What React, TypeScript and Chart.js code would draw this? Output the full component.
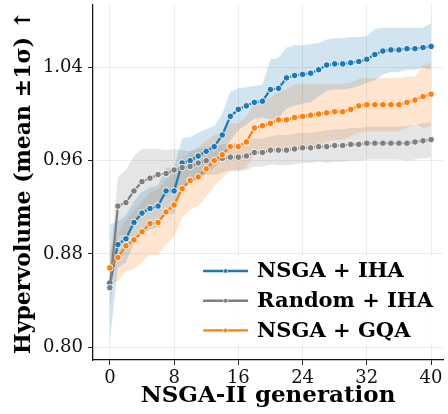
import React, { useEffect, useRef } from "react";
import { Chart, registerables } from "chart.js";

Chart.register(...registerables);

const generations = [
  0, 1, 2, 3, 4, 5, 6, 7, 8, 9, 10, 11, 12, 13, 14, 15, 16, 17, 18, 19, 20,
  21, 22, 23, 24, 25, 26, 27, 28, 29, 30, 31, 32, 33, 34, 35, 36, 37, 38, 39, 40,
];

const nsgaIhaMean = [
  0.855, 0.888, 0.893, 0.907, 0.915, 0.919, 0.921, 0.934, 0.934, 0.958, 0.96,
  0.964, 0.968, 0.972, 0.982, 0.998, 1.004, 1.007, 1.01, 1.011, 1.021, 1.022,
  1.031, 1.033, 1.034, 1.035, 1.038, 1.042, 1.043, 1.043, 1.044, 1.045, 1.047,
  1.051, 1.054, 1.055, 1.055, 1.056, 1.056, 1.057, 1.058,
];
const nsgaIhaStd = [
  0.05, 0.02, 0.02, 0.018, 0.018, 0.018, 0.018, 0.02, 0.02, 0.021, 0.02, 0.02,
  0.019, 0.018, 0.018, 0.021, 0.018, 0.016, 0.014, 0.014, 0.026, 0.026, 0.026,
  0.026, 0.025, 0.025, 0.023, 0.022, 0.022, 0.022, 0.022, 0.021, 0.02, 0.022,
  0.02, 0.019, 0.019, 0.018, 0.018, 0.017, 0.02,
];

const randomIhaMean = [
  0.851, 0.921, 0.924, 0.934, 0.942, 0.945, 0.948, 0.949, 0.952, 0.954, 0.955,
  0.958, 0.96, 0.96, 0.962, 0.963, 0.963, 0.964, 0.967, 0.967, 0.969, 0.969,
  0.969, 0.97, 0.971, 0.971, 0.972, 0.972, 0.973, 0.973, 0.974, 0.974, 0.975,
  0.975, 0.975, 0.975, 0.975, 0.975, 0.976, 0.977, 0.978,
];
const randomIhaStd = [
  0.02, 0.025, 0.028, 0.03, 0.028, 0.025, 0.022, 0.02, 0.018, 0.015, 0.013,
  0.012, 0.012, 0.012, 0.012, 0.012, 0.012, 0.012, 0.012, 0.012, 0.012, 0.013,
  0.013, 0.013, 0.013, 0.013, 0.013, 0.014, 0.014, 0.014, 0.014, 0.014, 0.014,
  0.014, 0.014, 0.014, 0.014, 0.015, 0.015, 0.015, 0.015,
];

const nsgaGqaMean = [
  0.868, 0.877, 0.887, 0.892, 0.899, 0.906, 0.907, 0.916, 0.922, 0.936, 0.943,
  0.946, 0.953, 0.96, 0.965, 0.972, 0.972, 0.976, 0.988, 0.99, 0.992, 0.995,
  0.995, 0.997, 0.998, 0.999, 1.0, 1.001, 1.002, 1.002, 1.004, 1.007, 1.008,
  1.008, 1.008, 1.008, 1.008, 1.01, 1.012, 1.015, 1.017,
];
const nsgaGqaStd = [
  0.015, 0.02, 0.022, 0.025, 0.026, 0.027, 0.028, 0.028, 0.027, 0.025, 0.025,
  0.025, 0.024, 0.022, 0.02, 0.02, 0.02, 0.022, 0.022, 0.022, 0.022, 0.024,
  0.026, 0.028, 0.028, 0.027, 0.026, 0.025, 0.024, 0.024, 0.023, 0.023, 0.023,
  0.023, 0.023, 0.023, 0.023, 0.022, 0.02, 0.027, 0.027,
];

const seriesLabels = ["NSGA + IHA", "Random + IHA", "NSGA + GQA"];
const seriesColors = ["#1f77b4", "#7f7f7f", "#ff7f0e"];
const bandColors = [
  "rgba(31,119,180,0.2)",
  "rgba(127,127,127,0.2)",
  "rgba(255,127,14,0.2)",
];
const xTicks = [0, 8, 16, 24, 32, 40];
const yTicks = [0.8, 0.88, 0.96, 1.04];

const FONT = "'DejaVu Serif', 'Liberation Serif', serif";

const legendPlugin = {
  id: "customLegend",
  afterDraw(chart: any) {
    const { ctx, chartArea } = chart;
    const r = chartArea.right;
    const b = chartArea.bottom;
    ctx.save();
    const L = r - 245,
      T = b - 105,
      W = 240,
      H = 89,
      rad = 4;
    ctx.beginPath();
    ctx.moveTo(L + rad, T);
    ctx.lineTo(L + W - rad, T);
    ctx.quadraticCurveTo(L + W, T, L + W, T + rad);
    ctx.lineTo(L + W, T + H - rad);
    ctx.quadraticCurveTo(L + W, T + H, L + W - rad, T + H);
    ctx.lineTo(L + rad, T + H);
    ctx.quadraticCurveTo(L, T + H, L, T + H - rad);
    ctx.lineTo(L, T + rad);
    ctx.quadraticCurveTo(L, T, L + rad, T);
    ctx.closePath();
    ctx.fillStyle = "rgba(255,255,255,0.85)";
    ctx.fill();

    seriesLabels.forEach((label, i) => {
      const y = b - 89 + i * 29.7;
      const x0 = r - 240;
      const x1 = r - 195;
      ctx.strokeStyle = seriesColors[i];
      ctx.lineWidth = 2.4;
      ctx.beginPath();
      ctx.moveTo(x0, y);
      ctx.lineTo(x1, y);
      ctx.stroke();
      ctx.beginPath();
      ctx.arc((x0 + x1) / 2, y, 2.2, 0, Math.PI * 2);
      ctx.fillStyle = seriesColors[i];
      ctx.fill();
      ctx.strokeStyle = "#fff";
      ctx.lineWidth = 0.6;
      ctx.stroke();
      ctx.fillStyle = "#000";
      ctx.font = `bold 21px ${FONT}`;
      ctx.textBaseline = "middle";
      ctx.textAlign = "left";
      ctx.fillText(label, r - 186, y + 1);
    });
    ctx.restore();
  },
};

export default function App() {
  const canvasRef = useRef<HTMLCanvasElement | null>(null);

  useEffect(() => {
    if (!canvasRef.current) return;
    const means = [nsgaIhaMean, randomIhaMean, nsgaGqaMean];
    const stds = [nsgaIhaStd, randomIhaStd, nsgaGqaStd];
    const datasets: any[] = [];
    means.forEach((m, s) => {
      datasets.push({
        label: seriesLabels[s] + " lower",
        data: generations.map((g, i) => ({ x: g, y: m[i] - stds[s][i] })),
        borderWidth: 0,
        pointRadius: 0,
        fill: false,
        order: 10,
      });
      datasets.push({
        label: seriesLabels[s] + " upper",
        data: generations.map((g, i) => ({ x: g, y: m[i] + stds[s][i] })),
        borderWidth: 0,
        pointRadius: 0,
        backgroundColor: bandColors[s],
        fill: "-1",
        order: 10,
      });
    });
    const lineOrder = [2, 1, 0];
    means.forEach((m, s) => {
      datasets.push({
        label: seriesLabels[s],
        data: generations.map((g, i) => ({ x: g, y: m[i] })),
        borderColor: seriesColors[s],
        backgroundColor: seriesColors[s],
        borderWidth: 2.2,
        pointRadius: 3.3,
        pointBackgroundColor: seriesColors[s],
        pointBorderColor: "#ffffff",
        pointBorderWidth: 0.9,
        tension: 0,
        fill: false,
        order: lineOrder[s],
      });
    });

    const chart = new Chart(canvasRef.current, {
      type: "line",
      data: { datasets },
      options: {
        animation: false,
        responsive: false,
        maintainAspectRatio: false,
        layout: { padding: { top: 3, left: 0, right: 0, bottom: 0 } },
        plugins: {
          legend: { display: false },
          tooltip: { enabled: false },
          filler: { propagate: false, drawTime: "beforeDatasetsDraw" },
        } as any,
        scales: {
          x: {
            type: "linear",
            min: -2.1,
            max: 41.5,
            afterBuildTicks: (s: any) => {
              s.ticks = xTicks.map((v) => ({ value: v }));
            },
            afterFit: (s: any) => {
              s.height = 54;
              s.paddingLeft = 0;
              s.paddingRight = 0;
            },
            grid: {
              color: "#ececec",
              lineWidth: 1,
              tickColor: "#222",
              tickLength: 5,
              drawTicks: true,
            },
            border: { color: "#111", width: 1.25 },
            ticks: {
              font: { family: FONT, size: 18 },
              color: "#111",
              padding: 3,
              maxRotation: 0,
              autoSkip: false,
              callback: (v: any) => String(v),
            },
            title: {
              display: true,
              text: "NSGA-II generation",
              font: { family: FONT, size: 23, weight: "bold" },
              color: "#000",
              padding: { top: 0, bottom: 4 },
            },
          },
          y: {
            type: "linear",
            min: 0.789,
            max: 1.0936,
            afterBuildTicks: (s: any) => {
              s.ticks = yTicks.map((v) => ({ value: v }));
            },
            afterFit: (s: any) => {
              s.width = 93;
              s.paddingTop = 0;
              s.paddingBottom = 0;
            },
            grid: {
              color: "#ececec",
              lineWidth: 1,
              tickColor: "#222",
              tickLength: 5,
              drawTicks: true,
            },
            border: { color: "#111", width: 1.25 },
            ticks: {
              font: { family: FONT, size: 18 },
              color: "#111",
              padding: 5,
              autoSkip: false,
              callback: (v: any) => Number(v).toFixed(2),
            },
            title: {
              display: true,
              text: "Hypervolume (mean ±1σ) ↑",
              font: { family: FONT, size: 22, weight: "bold" },
              color: "#000",
              padding: { top: 11, bottom: 0 },
            },
          },
        },
      },
      plugins: [legendPlugin],
    });
    return () => chart.destroy();
  }, []);

  return (
    <div style={{ position: "fixed", left: 0, top: 0, width: 448, height: 414, background: "#fff" }}>
      <canvas ref={canvasRef} width={448} height={414} style={{ display: "block" }} />
    </div>
  );
}
